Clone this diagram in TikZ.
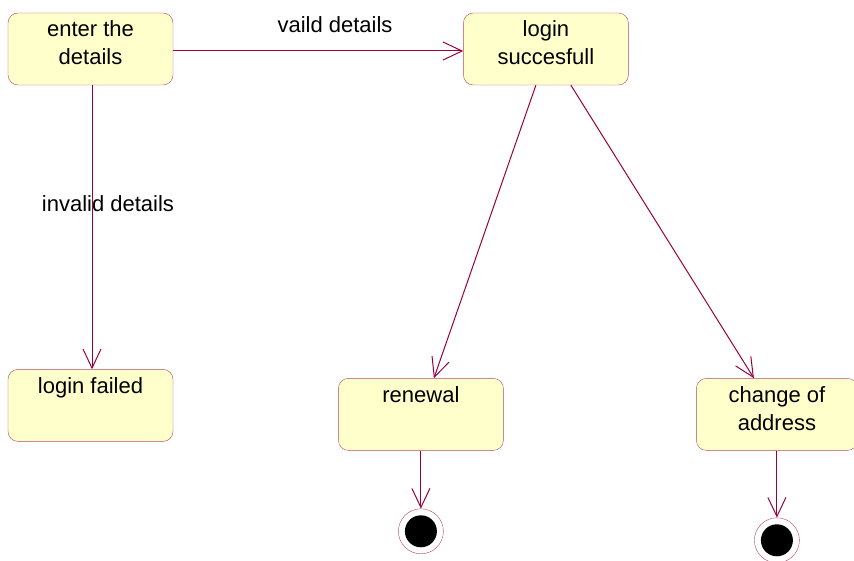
\documentclass[tikz,border=0pt]{standalone}
\usepackage{fontspec}
\setmainfont{Liberation Sans}
\usepackage{tikz}
\usetikzlibrary{positioning,arrows.meta}
\usepackage{xcolor}
\definecolor{umlred}{HTML}{99003D}
\definecolor{umledge}{HTML}{B84468}
\definecolor{umlfill}{HTML}{FFFFCC}
\newcommand{\stxt}[1]{\parbox[c][56pt][t]{160pt}{\centering #1}}

\begin{document}
\begin{tikzpicture}[
  x=1pt, y=1pt,
  state/.style={draw=umledge, fill=umlfill, rounded corners=10pt, minimum width=165pt, minimum height=72pt, inner sep=0pt, font=\fontsize{22}{28}\selectfont},
  final/.style={circle, draw=umledge, fill=white, minimum size=45pt, inner sep=0pt,
    path picture={\fill[black] (path picture bounding box.center) circle (16pt);}},
  lbl/.style={font=\fontsize{22}{28}\selectfont},
  arr/.style={-{Straight Barb[length=19pt, width=18pt]}, color=umlred, line width=1pt}
]
\useasboundingbox (0,0) rectangle (854,-561);

\node[state] (enter) at (90.5,-49) {\stxt{enter the\\details}};
\node[state, right=290pt of enter] (login) {\stxt{login\\succesfull}};
\node[state, below=284pt of enter] (failed) {\stxt{login failed}};
\node[state, below=293pt of login, xshift=-125pt] (renewal) {\stxt{renewal}};
\node[state, below=293pt of login, xshift=231pt, minimum width=161pt] (change) {\stxt{change of\\address}};
\node[final, below=58pt of renewal] (endA) {};
\node[final, below=67pt of change] (endB) {};

\node[lbl] (valid) at (335,-25) {vaild details};
\node[lbl] (invalid) at (108,-204) {invalid details};

\draw[arr] ([yshift=-2pt]enter.east) -- ([yshift=-2pt]login.west);
\draw[arr] ([xshift=1.5pt]enter.south) -- ([xshift=1.5pt]failed.north);
\draw[arr] ([xshift=-10pt]login.south) -- ([xshift=13pt]renewal.north);
\draw[arr] ([xshift=25pt]login.south) -- ([xshift=-23pt]change.north);
\draw[arr] (renewal) -- (endA);
\draw[arr] (change) -- (endB);
\end{tikzpicture}
\end{document}
